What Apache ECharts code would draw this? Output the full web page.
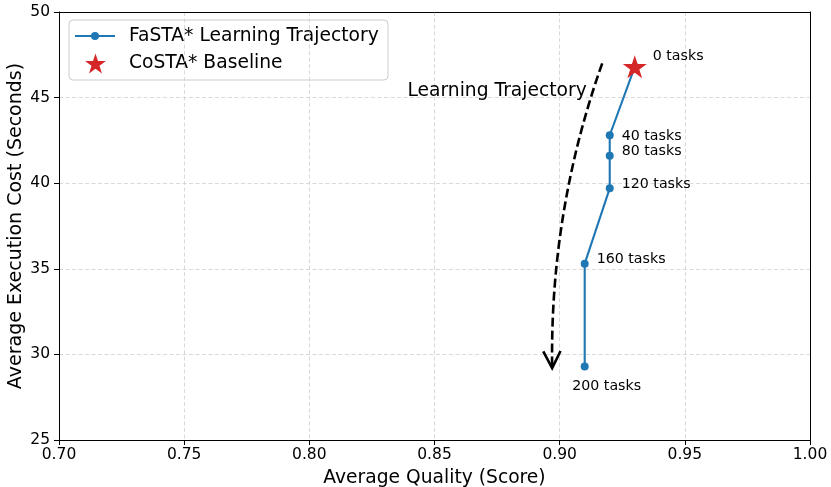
<!DOCTYPE html>
<html>
<head>
<meta charset="utf-8">
<script src="https://cdn.jsdelivr.net/npm/echarts@6/dist/echarts.min.js"></script>
<style>
  html, body { margin: 0; padding: 0; background: #fff; }
  #chart { width: 831px; height: 487px; }
</style>
</head>
<body>
<div id="chart"></div>
<script>
// Learning trajectory of FaSTA* vs. the CoSTA* baseline
const taskCounts = [0, 40, 80, 120, 160, 200];
const fastaQuality = [0.93, 0.92, 0.92, 0.92, 0.91, 0.91];
const fastaCost = [46.8, 42.8, 41.6, 39.7, 35.3, 29.3];
const costaQuality = [0.93];
const costaCost = [46.8];

const seriesNames = ['FaSTA* Learning Trajectory', 'CoSTA* Baseline'];

// Curved "learning trajectory" annotation (data coordinates)
const arrowStart = [0.917, 47.0];
const arrowEnd = [0.897, 29.2];
const arrowText = 'Learning Trajectory';
const arrowTextAt = [0.875, 45.4];

const xTicks = { min: 0.70, max: 1.00, step: 0.05 };
const yTicks = { min: 25, max: 50, step: 5 };

const FONT = 'DejaVu Sans';
const BLUE = '#1f77b4';
const RED = '#d62728';
const STAR = 'path://M0,-10 L2.245,-3.09 L9.511,-3.09 L3.633,1.18 L5.878,8.09 L0,3.82 L-5.878,8.09 L-3.633,1.18 L-9.511,-3.09 L-2.245,-3.09 Z';

// five-pointed star outline centred on (cx, cy)
function starPoints(cx, cy, r) {
  const pts = [];
  for (let i = 0; i < 10; i++) {
    const rr = i % 2 === 0 ? r : r * 0.382;
    const a = -Math.PI / 2 + i * Math.PI / 5;
    pts.push([cx + rr * Math.cos(a), cy + rr * Math.sin(a)]);
  }
  return pts;
}

// per-point label placement around each marker
const labelPlacement = [
  { position: 'right', distance: 14, offset: [0, -10] },
  { position: 'right', distance: 8, offset: [0, 1] },
  { position: 'right', distance: 8, offset: [0, -4.5] },
  { position: 'right', distance: 8, offset: [0, -4.5] },
  { position: 'right', distance: 8, offset: [0, -4.5] },
  { position: 'bottom', distance: 9, offset: [22, 0] }
];

const trajectory = fastaQuality.map((q, i) => ({
  value: [q, fastaCost[i]],
  label: Object.assign({ show: true }, labelPlacement[i])
}));

const chart = echarts.init(document.getElementById('chart'), null, { renderer: 'canvas' });

const gridLine = { show: true, lineStyle: { color: '#cfcfcf', type: [4, 2.5], width: 0.8 } };
const frameAxis = {
  axisLine: { show: true, lineStyle: { color: '#000', width: 1 } },
  axisTick: { show: false }, axisLabel: { show: false }, splitLine: { show: false }
};

// legend box drawn as graphic elements
const legendX = 69, legendY = 20;
const legendGraphic = {
  type: 'group', x: legendX, y: legendY, z: 100,
  children: [
    { type: 'rect', shape: { x: 0, y: 0, width: 319, height: 60, r: 4 },
      style: { fill: 'rgba(255,255,255,0.85)', stroke: '#cccccc', lineWidth: 1 } },
    { type: 'line', shape: { x1: 6, y1: 16, x2: 46, y2: 16 }, style: { stroke: BLUE, lineWidth: 2 } },
    { type: 'circle', shape: { cx: 26, cy: 16, r: 4 }, style: { fill: BLUE } },
    { type: 'text', x: 60, y: 16, style: { text: seriesNames[0], fontFamily: FONT, fontSize: 18.7, fill: '#000', textVerticalAlign: 'middle' } },
    { type: 'polygon', shape: { points: starPoints(26.5, 44.5, 11) }, style: { fill: RED } },
    { type: 'text', x: 60, y: 43, style: { text: seriesNames[1], fontFamily: FONT, fontSize: 18.7, fill: '#000', textVerticalAlign: 'middle' } }
  ]
};

chart.setOption({
  animation: false,
  backgroundColor: '#fff',
  textStyle: { fontFamily: FONT },
  grid: { left: 59, right: 21, top: 12, bottom: 47, outerBoundsMode: 'none', containLabel: false },
  graphic: [legendGraphic],
  xAxis: [{
    type: 'value', min: xTicks.min, max: xTicks.max, interval: xTicks.step,
    name: 'Average Quality (Score)', nameLocation: 'middle', nameGap: 29,
    nameTextStyle: { fontFamily: FONT, fontSize: 18.7, color: '#000' },
    axisLine: { show: true, lineStyle: { color: '#000', width: 1 } },
    axisTick: { show: true, length: 5, lineStyle: { color: '#000' } },
    axisLabel: { fontFamily: FONT, fontSize: 15.5, color: '#000', margin: 7, formatter: v => v.toFixed(2) },
    splitLine: gridLine
  }, Object.assign({ type: 'value', position: 'top', min: xTicks.min, max: xTicks.max }, frameAxis)],
  yAxis: [{
    type: 'value', min: yTicks.min, max: yTicks.max, interval: yTicks.step,
    name: 'Average Execution Cost (Seconds)', nameLocation: 'middle', nameGap: 33,
    nameMoveOverlap: false,
    nameTextStyle: { fontFamily: FONT, fontSize: 19, color: '#000' },
    axisLine: { show: true, lineStyle: { color: '#000', width: 1 } },
    axisTick: { show: true, length: 5, lineStyle: { color: '#000' } },
    axisLabel: { fontFamily: FONT, fontSize: 15.5, color: '#000', margin: 9 },
    splitLine: gridLine
  }, Object.assign({ type: 'value', position: 'right', min: yTicks.min, max: yTicks.max }, frameAxis)],
  series: [
    {
      name: seriesNames[0],
      type: 'line',
      data: trajectory,
      symbol: 'circle', symbolSize: 8,
      lineStyle: { color: BLUE, width: 2.1 },
      itemStyle: { color: BLUE },
      label: {
        fontFamily: FONT, fontSize: 14.2, color: '#000',
        formatter: p => taskCounts[p.dataIndex] + ' tasks'
      },
      z: 3
    },
    {
      name: seriesNames[1],
      type: 'scatter',
      data: costaQuality.map((q, i) => [q, costaCost[i]]),
      symbol: STAR,
      symbolSize: [24, 23],
      itemStyle: { color: RED, opacity: 1 },
      z: 5
    },
    {
      // dashed curved arrow
      type: 'custom',
      silent: true,
      data: [[arrowStart[0], arrowStart[1], arrowEnd[0], arrowEnd[1]]],
      encode: { x: [0, 2], y: [1, 3] },
      renderItem: function (params, api) {
        const p1 = api.coord([api.value(0), api.value(1)]);
        const p2 = api.coord([api.value(2), api.value(3)]);
        const rad = 0.09;
        const dx = p2[0] - p1[0], dy = p2[1] - p1[1];
        // arc3-style control point (screen coords, y down)
        const cpx = (p1[0] + p2[0]) / 2 - rad * dy;
        const cpy = (p1[1] + p2[1]) / 2 + rad * dx;
        const tx = p2[0] - cpx, ty = p2[1] - cpy;
        const len = Math.sqrt(tx * tx + ty * ty);
        const ux = tx / len, uy = ty / len;
        const headLen = 19, ang = 27 * Math.PI / 180;
        const rot = (a) => [
          p2[0] - headLen * (ux * Math.cos(a) - uy * Math.sin(a)),
          p2[1] - headLen * (ux * Math.sin(a) + uy * Math.cos(a))
        ];
        const left = rot(ang), right = rot(-ang);
        return {
          type: 'group',
          children: [
            {
              type: 'bezierCurve',
              shape: { x1: p1[0], y1: p1[1], x2: p2[0], y2: p2[1], cpx1: cpx, cpy1: cpy },
              style: { stroke: '#000', lineWidth: 2.6, lineDash: [9, 4], fill: null }
            },
            {
              type: 'polyline',
              shape: { points: [left, p2, right] },
              style: { stroke: '#000', lineWidth: 2.6, fill: null }
            }
          ]
        };
      },
      z: 2
    },
    {
      // annotation text
      type: 'custom',
      silent: true,
      data: [arrowTextAt],
      encode: { x: 0, y: 1 },
      renderItem: function (params, api) {
        const p = api.coord([api.value(0), api.value(1)]);
        return {
          type: 'text',
          x: p[0], y: p[1],
          style: {
            text: arrowText, fontFamily: FONT, fontSize: 18.7, fill: '#000',
            textAlign: 'center', textVerticalAlign: 'middle'
          }
        };
      },
      z: 2
    }
  ]
});
</script>
</body>
</html>
